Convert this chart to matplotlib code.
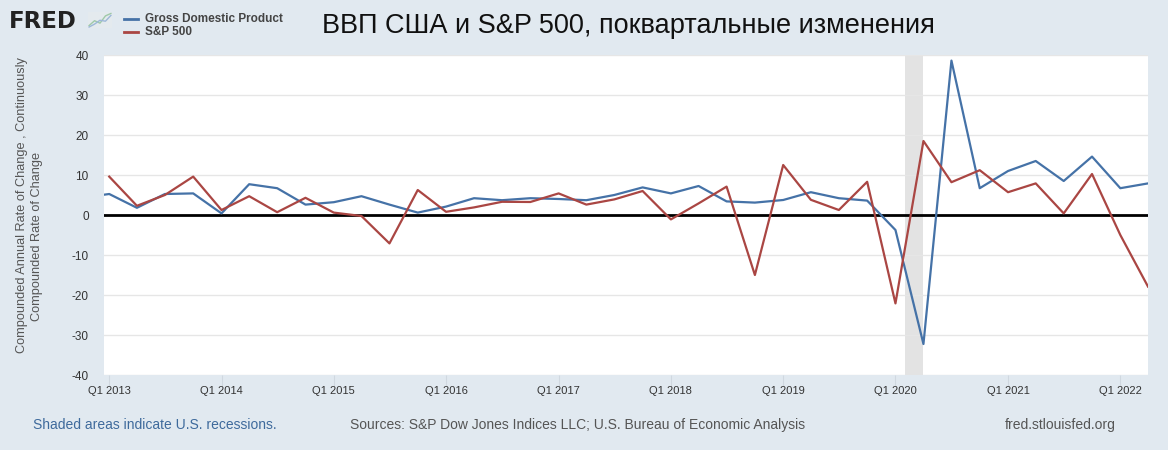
import pandas as pd
import matplotlib.pyplot as plt
from matplotlib.lines import Line2D

plt.rcParams['font.family'] = ['Liberation Sans', 'DejaVu Sans']
plt.rcParams['axes.unicode_minus'] = False

trimestres_pib = pd.date_range('2012-10-01', '2022-04-01', freq='QS')
pib = [4.3, 5.25, 1.8, 5.25, 5.4, 0.4, 7.7, 6.7, 2.6,
       3.2, 4.7, 2.6, 0.6, 2.1, 4.2, 3.7, 4.2,
       4.0, 3.7, 5.0, 6.9, 5.4, 7.25, 3.4, 3.1,
       3.75, 5.7, 4.2, 3.6, -3.75, -32.25, 38.6, 6.7,
       11.0, 13.5, 8.5, 14.6, 6.7, 7.9]

trimestres_sp = pd.date_range('2013-01-01', '2022-04-01', freq='QS')
sp500 = [9.6, 2.3, 5.0, 9.6, 1.25, 4.7, 0.7, 4.3,
         0.6, -0.25, -7.1, 6.25, 0.8, 1.9, 3.3, 3.25,
         5.4, 2.6, 3.9, 6.0, -1.1, 2.9, 7.1, -15.0,
         12.5, 3.8, 1.25, 8.3, -22.1, 18.5, 8.2, 11.2,
         5.7, 7.9, 0.4, 10.25, -5.0, -17.9]

recesion = ('2020-02-01', '2020-04-01')
anios_ticks = list(range(2013, 2023))

FONDO = '#e1e9f0'
AZUL = '#4572a7'
ROJO = '#aa4643'
W, H = 1168, 450

fig = plt.figure(figsize=(W / 100, H / 100), dpi=100, facecolor=FONDO)
ax = fig.add_axes([104 / W, 1 - 375 / H, 1044 / W, 320 / H])
ax.set_facecolor('white')

ax.axvspan(pd.Timestamp(recesion[0]), pd.Timestamp(recesion[1]), color='#e3e3e3', lw=0, zorder=1)
ax.axhline(0, color='black', lw=2, zorder=3)
ax.plot(trimestres_pib, pib, color=AZUL, lw=1.6, zorder=4)
ax.plot(trimestres_sp, sp500, color=ROJO, lw=1.6, zorder=4)

ax.set_xlim(pd.Timestamp('2012-12-15'), pd.Timestamp('2022-04-01'))
ax.set_ylim(-40, 40)
ax.set_yticks(range(-40, 41, 10))
ax.grid(axis='y', color='#e6e6e6', lw=1, zorder=0)

ax.set_xticks([pd.Timestamp(f'{a}-01-01') for a in anios_ticks])
ax.set_xticklabels([f'Q1 {a}' for a in anios_ticks])
ax.tick_params(axis='x', length=8, color='#d0d8e0', labelsize=8, labelcolor='#333333', pad=0)
ax.tick_params(axis='y', length=0, labelsize=8.5, labelcolor='#333333', pad=11)
for s in ax.spines.values():
    s.set_visible(False)

# Etiqueta del eje Y (dos líneas, como en el original)
fig.text(22 / W, 1 - 205 / H, 'Compounded Annual Rate of Change , Continuously',
         rotation=90, ha='center', va='center', fontsize=9.2, color='#555555')
fig.text(37 / W, 1 - 236 / H, 'Compounded Rate of Change',
         rotation=90, ha='center', va='center', fontsize=9.2, color='#555555')

# Título
fig.text(628 / W, 1 - 26 / H, 'ВВП США и S&P 500, поквартальные изменения',
         ha='center', va='center', fontsize=19.5, color='#111111')

# Logo FRED
fig.text(9 / W, 1 - 28 / H, 'FRED', ha='left', va='baseline', fontsize=16.5,
         fontweight='heavy', family='DejaVu Sans', color='#222222')

icono = fig.add_axes([88 / W, 1 - 28 / H, 24 / W, 16 / H])
icono.set_facecolor('#e4eaee')
icono.plot([0, 1, 2, 3, 4], [0.5, 1.5, 1.0, 2.5, 3.0], color='#9fc9a8', lw=1)
icono.plot([0, 1, 2, 3, 4], [0.2, 0.8, 1.6, 1.4, 2.6], color='#9db8d8', lw=1)
icono.set_ylim(0, 3.3)
icono.set_xticks([])
icono.set_yticks([])
for s in icono.spines.values():
    s.set_visible(False)

# Leyenda
for y, color, texto in [(19, AZUL, 'Gross Domestic Product'), (32, ROJO, 'S&P 500')]:
    fig.add_artist(Line2D([124 / W, 138 / W], [1 - y / H, 1 - y / H],
                          color=color, lw=2, transform=fig.transFigure))
    fig.text(145 / W, 1 - y / H, texto, ha='left', va='center', fontsize=8.5,
             fontweight='bold', color='#444444')

# Pie
fig.text(33 / W, 1 - 425 / H, 'Shaded areas indicate U.S. recessions.',
         ha='left', va='center', fontsize=10, color='#3e6a9c')
fig.text(350 / W, 1 - 425 / H,
         'Sources: S&P Dow Jones Indices LLC; U.S. Bureau of Economic Analysis',
         ha='left', va='center', fontsize=10, color='#555555')
fig.text(1005 / W, 1 - 425 / H, 'fred.stlouisfed.org',
         ha='left', va='center', fontsize=10, color='#555555')

fig.savefig('out.png', dpi=100, facecolor=FONDO)
